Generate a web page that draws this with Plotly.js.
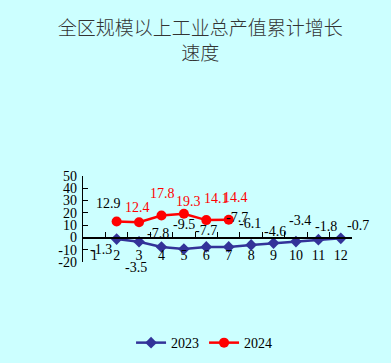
<!DOCTYPE html>
<html><head><meta charset="utf-8">
<script src="https://cdn.plot.ly/plotly-3.0.1.min.js"></script>
<style>html,body{margin:0;padding:0;background:#CCFFFF;}</style>
</head><body><div id="chart" style="width:391px;height:363px;"></div>
<script>
var months = ['1','2','3','4','5','6','7','8','9','10','11','12'];
var series2023 = [null, -1.3, -3.5, -7.8, -9.5, -7.7, -7.7, -6.1, -4.6, -3.4, -1.8, -0.7];
var series2024 = [null, 12.9, 12.4, 17.8, 19.3, 14.1, 14.4, null, null, null, null, null];
var labels2023 = ['', '-1.3', '-3.5', '-7.8', '-9.5', '-7.7', '-7.7', '-6.1', '-4.6', '-3.4', '-1.8', '-0.7'];
var labels2024 = ['', '12.9', '12.4', '17.8', '19.3', '14.1', '14.4', '', '', '', '', ''];
var yTicks = [-20, -10, 0, 10, 20, 30, 40, 50];

// label offsets (pixels) relative to each point
var off2023 = [null, [-16,-10], [-3,-26], [-3,14], [0,25], [0,16], [8,29], [-1,21], [1,12], [4,21], [8,13], [17,13]];
var off2024 = [null, [-8,18], [-2,15], [1,22], [5,12], [10,22], [7,22]];
var col2024 = [null, '#000000', '#FF0000', '#FF0000', '#FF0000', '#FF0000', '#FF0000'];

var numFont = 'Liberation Serif, serif';
var annotations = [];
for (var i = 0; i < months.length; i++) {
  if (series2023[i] !== null && labels2023[i]) {
    annotations.push({x: i, y: series2023[i], xref: 'x', yref: 'y', text: labels2023[i],
      showarrow: false, xshift: off2023[i][0], yshift: off2023[i][1],
      font: {family: numFont, size: 14, color: '#000000'}});
  }
  if (series2024[i] !== null && labels2024[i]) {
    annotations.push({x: i, y: series2024[i], xref: 'x', yref: 'y', text: labels2024[i],
      showarrow: false, xshift: off2024[i][0], yshift: off2024[i][1],
      font: {family: numFont, size: 14, color: col2024[i]}});
  }
}

var ymin = -20, ymax = 50;
var traces = [
  {x: months, y: series2023, name: '2023', type: 'scatter', mode: 'lines+markers',
   line: {color: '#333399', width: 2.5}, marker: {symbol: 'diamond', size: 9, color: '#333399'}, cliponaxis: false},
  {x: months, y: series2024, name: '2024', type: 'scatter', mode: 'lines+markers',
   line: {color: '#FF0000', width: 2.5}, marker: {symbol: 'circle', size: 10, color: '#FF0000'}, cliponaxis: false}
];

var layout = {
  width: 391, height: 363,
  paper_bgcolor: '#CCFFFF', plot_bgcolor: 'rgba(0,0,0,0)',
  margin: {l: 83, r: 39, t: 176, b: 101, pad: 0},
  title: {text: '全区规模以上工业总产值累计增长<br>速度', x: 0.512, xanchor: 'center',
    y: 0.904, yanchor: 'middle', yref: 'container',
    font: {family: 'Noto Sans CJK SC, sans-serif', size: 19, color: '#333333', weight: 300}},
  showlegend: true,
  legend: {orientation: 'h', x: 0.45, xanchor: 'center', y: 0.055, yref: 'container', yanchor: 'middle',
    font: {family: numFont, size: 14, color: '#000000'}, bgcolor: 'rgba(0,0,0,0)', itemwidth: 30},
  xaxis: {type: 'category', categoryorder: 'array', categoryarray: months, range: [-0.5, 11.5],
    anchor: 'free', position: (0 - ymin) / (ymax - ymin),
    showline: true, linecolor: '#000000', linewidth: 1.2, showgrid: false, zeroline: false,
    ticks: 'inside', tickson: 'boundaries', ticklen: 5, tickcolor: '#000000', tickwidth: 1,
    ticklabelstandoff: 5, tickangle: 0,
    tickfont: {family: numFont, size: 14, color: '#000000'}, fixedrange: true},
  yaxis: {range: [ymin, ymax], tickvals: yTicks, ticktext: yTicks.map(String),
    showline: true, linecolor: '#000000', linewidth: 1.2, showgrid: false, zeroline: false,
    ticks: 'inside', ticklen: 5, tickcolor: '#000000', tickwidth: 1, ticklabelstandoff: 2,
    tickfont: {family: numFont, size: 14, color: '#000000'}, fixedrange: true},
  annotations: annotations
};

Plotly.newPlot('chart', traces, layout, {displayModeBar: false, staticPlot: true});
</script></body></html>
